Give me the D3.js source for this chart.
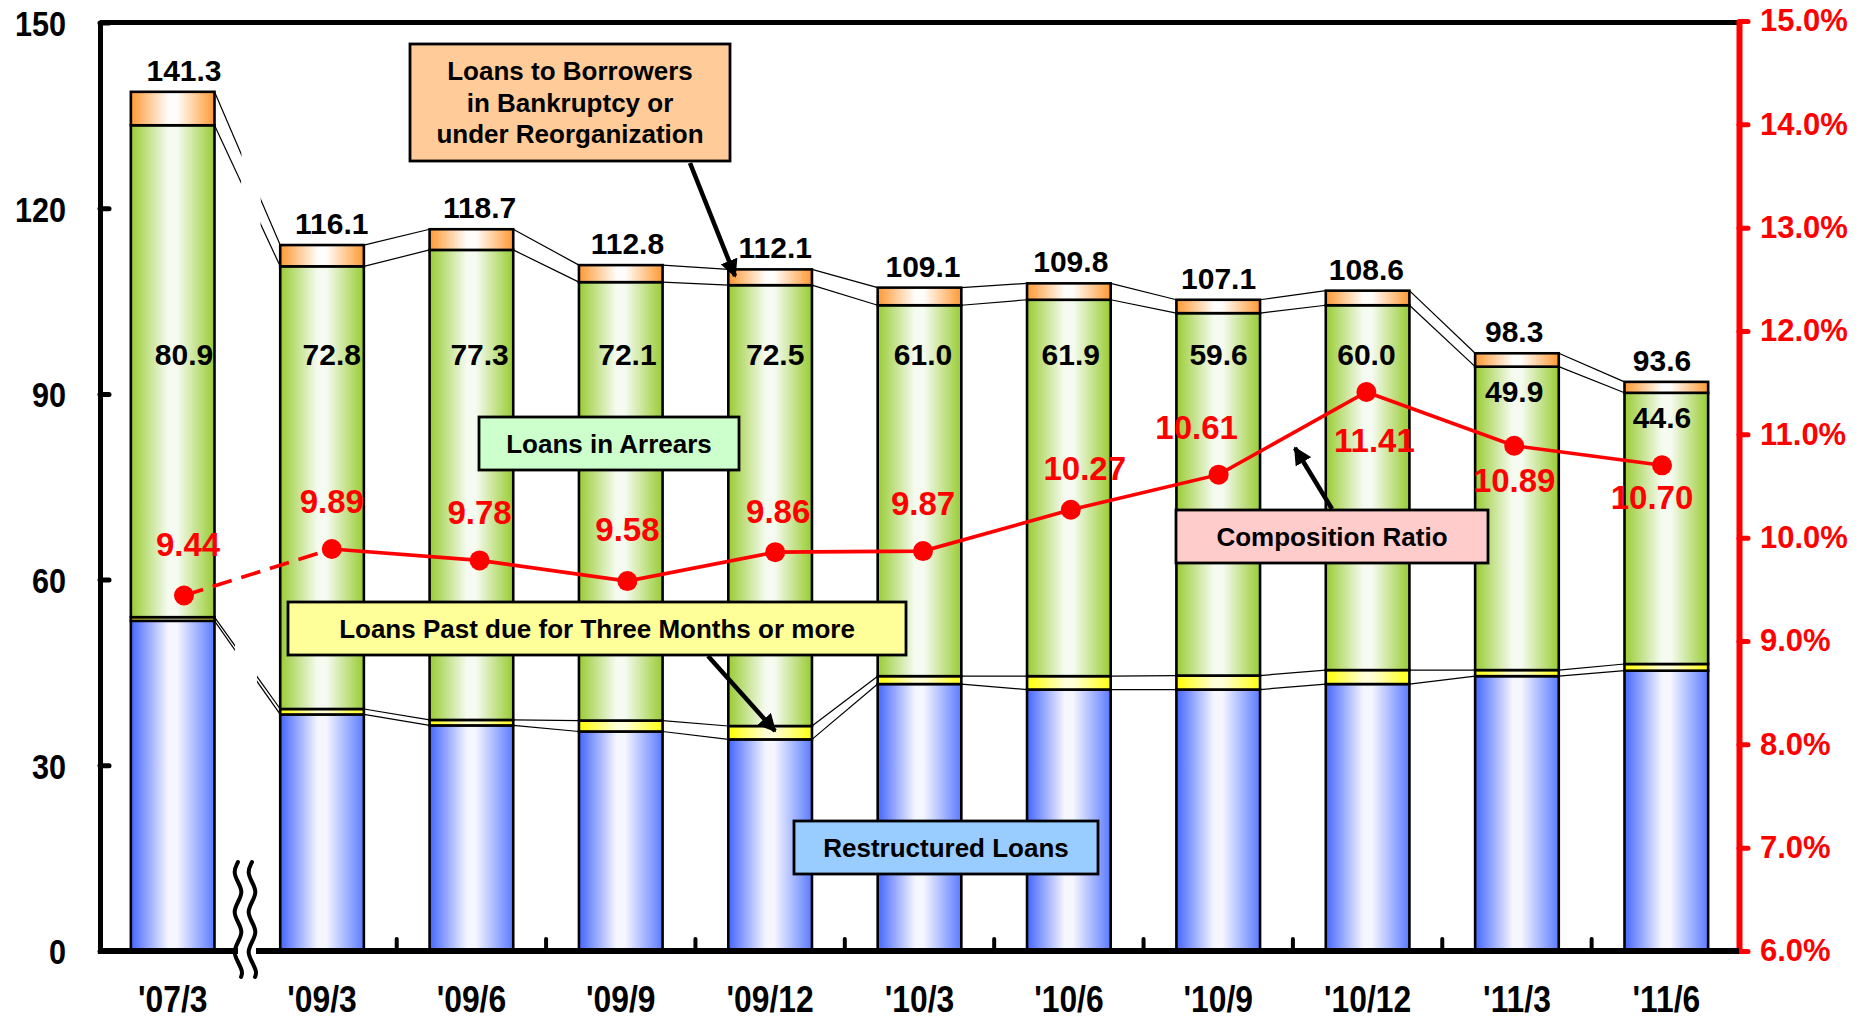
<!DOCTYPE html>
<html><head><meta charset="utf-8">
<script src="https://cdn.jsdelivr.net/npm/d3@7"></script>
<style>
body{margin:0;background:#fff;}
svg{display:block;}
text{font-family:"Liberation Sans",Arial,sans-serif;font-weight:bold;}
</style>
</head><body>
<svg id="c" width="1868" height="1024"></svg>
<script>
// ---------- data ----------
const categories   = ["'07/3","'09/3","'09/6","'09/9","'09/12","'10/3","'10/6","'10/9","'10/12","'11/3","'11/6"];
const restructured = [54.3, 38.9, 37.1, 36.1, 34.8, 43.9, 43.0, 43.0, 43.9, 45.2, 46.1];
const pastDue3m    = [0.6, 0.9, 0.9, 1.8, 2.2, 1.3, 2.2, 2.3, 2.3, 1.0, 1.1];
const arrears      = [80.9, 72.8, 77.3, 72.1, 72.5, 61.0, 61.9, 59.6, 60.0, 49.9, 44.6];
const bankrupt     = [5.5, 3.5, 3.4, 2.8, 2.6, 2.9, 2.7, 2.2, 2.4, 2.2, 1.8];
const totals       = [141.3, 116.1, 118.7, 112.8, 112.1, 109.1, 109.8, 107.1, 108.6, 98.3, 93.6];
const ratio        = [9.44, 9.89, 9.78, 9.58, 9.86, 9.87, 10.27, 10.61, 11.41, 10.89, 10.70];
const leftTicks    = [0, 30, 60, 90, 120, 150];
const rightTicks   = [6, 7, 8, 9, 10, 11, 12, 13, 14, 15];
const keys = ["restructured","pastDue3m","arrears","bankrupt"];

const table = categories.map((c,i)=>({cat:c, restructured:restructured[i], pastDue3m:pastDue3m[i], arrears:arrears[i], bankrupt:bankrupt[i]}));

// ---------- layout ----------
const svg = d3.select("#c");
const X0 = 100, X1 = 1739, Y0 = 951, YT = 22.5;

const x = d3.scaleBand().domain(categories).range([98, 1741]).paddingInner(0.44).paddingOuter(0.22);
const lineX = d3.scalePoint().domain(categories).range([184, 1662]);
const yAxisScale = d3.scaleLinear().domain([0,150]).range([Y0, YT]);
const yBar = d3.scaleLinear().domain([0,152.7]).range([Y0, YT]);
const y2 = d3.scaleLinear().domain([6,15]).range([Y0, 21]);

// gradients
const defs = svg.append("defs");
const grads = {
  restructured:["#4466ff","#f6f6ff","#5a7bff"],
  pastDue3m:["#ffff00","#ffffd8","#ffff10"],
  arrears:["#99cc33","#f6fbf2","#99cc33"],
  bankrupt:["#ff9933","#fffdfb","#ff9933"]
};
Object.entries(grads).forEach(([k,c])=>{
  const g = defs.append("linearGradient").attr("id","g_"+k).attr("x1","0").attr("x2","1").attr("y1","0").attr("y2","0");
  g.append("stop").attr("offset","0%").attr("stop-color",c[0]);
  g.append("stop").attr("offset","45%").attr("stop-color",c[1]);
  g.append("stop").attr("offset","55%").attr("stop-color",c[1]);
  g.append("stop").attr("offset","100%").attr("stop-color",c[2]);
});
defs.append("marker").attr("id","arr").attr("viewBox","0 0 10 10").attr("refX",9).attr("refY",5)
  .attr("markerWidth",4).attr("markerHeight",4).attr("orient","auto").attr("markerUnits","strokeWidth")
  .append("path").attr("d","M0,0 L10,5 L0,10 z").attr("fill","#000");

const stacked = d3.stack().keys(keys)(table);

// connector lines between bars
const conn = svg.append("g").attr("stroke","#000").attr("stroke-width",1.2).attr("fill","none");
stacked.forEach(layer=>{
  for(let i=0;i<categories.length-1;i++){
    conn.append("line")
      .attr("x1", x(categories[i])+x.bandwidth()).attr("y1", yBar(layer[i][1]))
      .attr("x2", x(categories[i+1])).attr("y2", yBar(layer[i+1][1]));
  }
});
// gap in connectors (axis break)
svg.append("polygon").attr("points","243,40 262,40 256,800 233,800").attr("fill","#fff");

// bars
const bars = svg.append("g");
stacked.forEach(layer=>{
  bars.selectAll(null).data(layer).enter().append("rect")
    .attr("x", (d,i)=>x(categories[i]))
    .attr("width", x.bandwidth())
    .attr("y", d=>yBar(d[1]))
    .attr("height", d=>yBar(d[0])-yBar(d[1]))
    .attr("fill","url(#g_"+layer.key+")")
    .attr("stroke","#000").attr("stroke-width",2.6);
});

// frame: top line
svg.append("line").attr("x1",X0).attr("x2",X1).attr("y1",YT).attr("y2",YT).attr("stroke","#000").attr("stroke-width",5);

// left axis
const la = svg.append("g").attr("transform",`translate(${X0},0)`)
  .call(d3.axisLeft(yAxisScale).tickValues(leftTicks).tickSize(-9).tickSizeOuter(0).tickPadding(34).tickFormat(d3.format("d")));
la.select(".domain").attr("stroke","#000").attr("stroke-width",5);
la.selectAll(".tick line").attr("stroke","#000").attr("stroke-width",5).attr("stroke-linecap","round");
la.selectAll(".tick text").attr("font-size",36).attr("fill","#000")
  .attr("font-family","Liberation Sans, Arial, sans-serif").attr("font-weight","bold")
  .attr("x",-34/0.85).attr("dy","0.36em").attr("transform","scale(0.85,1)");

// right axis
const ra = svg.append("g").attr("transform",`translate(${X1},0)`)
  .call(d3.axisRight(y2).tickValues(rightTicks).tickSize(9).tickSizeOuter(0).tickPadding(12).tickFormat(d=>d.toFixed(1)+"%"));
ra.select(".domain").attr("stroke","#ff0000").attr("stroke-width",6);
ra.selectAll(".tick line").attr("stroke","#ff0000").attr("stroke-width",5).attr("stroke-linecap","round");
ra.selectAll(".tick text").attr("font-size",31).attr("fill","#ff0000").attr("font-family","Liberation Sans, Arial, sans-serif").attr("font-weight","bold");

// bottom axis
svg.append("line").attr("x1",X0-2).attr("x2",X1).attr("y1",Y0).attr("y2",Y0).attr("stroke","#000").attr("stroke-width",6);
const bticks = categories.slice(1).map((c,i)=>x(c) - x.step()*x.paddingInner()/2).slice(1);
svg.append("g").selectAll("line").data(bticks).enter().append("line")
  .attr("x1",d=>d).attr("x2",d=>d).attr("y1",Y0).attr("y2",Y0-12)
  .attr("stroke","#000").attr("stroke-width",4).attr("stroke-linecap","round");
svg.append("g").selectAll("text").data(categories).enter().append("text")
  .attr("transform",d=>`translate(${x(d)+x.bandwidth()/2},1012) scale(0.86,1)`)
  .attr("text-anchor","middle").attr("font-size",37).attr("fill","#000").text(d=>d);

// break symbol
svg.append("rect").attr("x",238).attr("y",935).attr("width",18).attr("height",32).attr("fill","#fff");
const wave = d3.line().curve(d3.curveBasis);
[238, 252].forEach(bx=>{
  const pts = [];
  const ys = [862,872,882,892,902,912,922,932,942,952,962,972,977];
  const dx = [0,-5,0,5,0,-5,0,5,0,-5,0,5,3];
  ys.forEach((yy,k)=>pts.push([bx+dx[k], yy]));
  svg.append("path").attr("d",wave(pts)).attr("fill","none").attr("stroke","#000").attr("stroke-width",4).attr("stroke-linecap","round");
});

// total labels
svg.append("g").selectAll("text").data(totals).enter().append("text")
  .attr("x",(d,i)=>lineX(categories[i])).attr("y",(d,i)=>yBar(stacked[3][i][1])-11)
  .attr("text-anchor","middle").attr("font-size",30).attr("fill","#000").text(d=>d.toFixed(1));

// arrears labels
svg.append("g").selectAll("text").data(arrears).enter().append("text")
  .attr("x",(d,i)=>lineX(categories[i]))
  .attr("y",(d,i)=>Math.max(365, yBar(stacked[2][i][1])+35))
  .attr("text-anchor","middle").attr("font-size",30).attr("fill","#000").text(d=>d.toFixed(1));

// annotation boxes
function box(x0,y0,w,h,fill,lines,fs,base0,lh){
  const g = svg.append("g");
  g.append("rect").attr("x",x0).attr("y",y0).attr("width",w).attr("height",h).attr("fill",fill).attr("stroke","#000").attr("stroke-width",2.8);
  lines.forEach((t,k)=>g.append("text").attr("x",x0+w/2).attr("y",base0+k*lh).attr("text-anchor","middle").attr("font-size",fs).attr("fill","#000").text(t));
}
function arrow(x1,y1,x2,y2){
  svg.append("line").attr("x1",x1).attr("y1",y1).attr("x2",x2).attr("y2",y2).attr("stroke","#000").attr("stroke-width",4.5).attr("marker-end","url(#arr)");
}
box(410,44,320,117,"#ffcc99",["Loans to Borrowers","in Bankruptcy or","under Reorganization"],26,80,31.7);
arrow(690,163,735,276);
box(479,417,260,53,"#ccffcc",["Loans in Arrears"],26,453,0);
box(288,602,618,53,"#ffff99",["Loans Past due for Three Months or more"],26,638,0);
arrow(708,656,775,731);
box(794,821,304,53,"#99ccff",["Restructured Loans"],26,857,0);
box(1176,510,312,53,"#ffcccc",["Composition Ratio"],26,546,0);
arrow(1332,509,1295,448);

// composition ratio line
const pts = ratio.map((r,i)=>[lineX(categories[i]), y2(r)]);
svg.append("path").attr("d",d3.line()(pts.slice(0,2))).attr("fill","none").attr("stroke","#ff0000").attr("stroke-width",3.6).attr("stroke-dasharray","20,10");
svg.append("path").attr("d",d3.line()(pts.slice(1))).attr("fill","none").attr("stroke","#ff0000").attr("stroke-width",3.6);
svg.append("g").selectAll("circle").data(ratio).enter().append("circle")
  .attr("cx",(d,i)=>lineX(categories[i])).attr("cy",d=>y2(d)).attr("r",10).attr("fill","#ff0000");
// label nudges (px) for a few ratio labels, as in the reference layout
const nudge = {"'07/3":[4,-4], "'09/9":[0,-4], "'09/12":[3,7], "'10/6":[14,6], "'10/9":[-22,0], "'10/12":[8,14], "'11/6":[-10,-2]};
svg.append("g").selectAll("text").data(ratio).enter().append("text")
  .attr("x",(d,i)=>lineX(categories[i]) + (nudge[categories[i]]||[0,0])[0])
  .attr("y",(d,i)=>(i>=8 ? y2(d)+46 : y2(d)-36) + (nudge[categories[i]]||[0,0])[1])
  .attr("text-anchor","middle").attr("font-size",33).attr("fill","#ff0000").text(d=>d.toFixed(2));
</script>
</body></html>
